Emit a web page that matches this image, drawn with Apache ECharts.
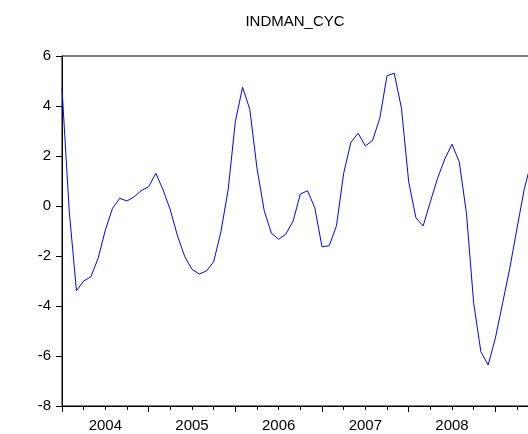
<!DOCTYPE html>
<html>
<head>
<meta charset="utf-8">
<script src="https://cdn.jsdelivr.net/npm/echarts@6/dist/echarts.min.js"></script>
<style>
html,body{margin:0;padding:0;background:#fff;}
#chart{width:528px;height:434px;}
</style>
</head>
<body>
<div id="chart"></div>
<script>
// Monthly observations starting 2004M01 (index 0 = Jan 2004)
var seriesName = 'INDMAN_CYC';
var startYear = 2004;
var values = [
  4.71, -0.20, -3.39, -3.00, -2.83, -2.09, -0.96, -0.09, 0.31, 0.20, 0.37, 0.62,
  0.77, 1.31, 0.64, -0.16, -1.20, -2.03, -2.53, -2.72, -2.60, -2.23, -1.03, 0.64,
  3.37, 4.75, 3.87, 1.51, -0.19, -1.09, -1.33, -1.12, -0.60, 0.48, 0.61, -0.07,
  -1.63, -1.59, -0.79, 1.31, 2.55, 2.91, 2.40, 2.62, 3.51, 5.21, 5.31, 3.91,
  0.97, -0.47, -0.80, 0.17, 1.11, 1.88, 2.47, 1.77, -0.29, -3.89, -5.83, -6.36,
  -5.29, -3.89, -2.49, -0.89, 0.67, 1.80
];
var yearLabels = ['2004', '2005', '2006', '2007', '2008', ''];
var yMin = -8, yMax = 6, yStep = 2;

var points = values.map(function (v, i) { return [i, v]; });
var monthsShown = yearLabels.length * 12;

var chart = echarts.init(document.getElementById('chart'), null, {renderer: 'canvas'});
var font = 'Liberation Sans, Arial, sans-serif';
chart.setOption({
  animation: false,
  backgroundColor: '#fff',
  title: {
    text: seriesName,
    left: 295,
    top: 14,
    padding: 0,
    textAlign: 'center',
    textStyle: {fontFamily: font, fontSize: 15, fontWeight: 'normal', color: '#000'}
  },
  grid: {
    left: 62, top: 56, width: monthsShown * 86.67 / 12, height: 350,
    show: true, borderColor: '#000', borderWidth: 1, backgroundColor: 'transparent',
    containLabel: false,
    outerBoundsMode: 'none'
  },
  xAxis: [{
    type: 'value',
    min: 0, max: monthsShown, interval: 12,
    axisLine: {show: true, onZero: false, lineStyle: {color: '#000', width: 1}},
    axisTick: {show: true, length: 6, lineStyle: {color: '#000'}},
    minorTick: {show: true, splitNumber: 4, length: 4, lineStyle: {color: '#000'}},
    axisLabel: {show: false},
    splitLine: {show: false},
    minorSplitLine: {show: false}
  }, {
    type: 'category',
    position: 'bottom',
    data: yearLabels,
    boundaryGap: true,
    axisLine: {show: false, onZero: false},
    axisTick: {show: false},
    axisLabel: {show: true, margin: 12, color: '#000', fontFamily: font, fontSize: 15, interval: 0},
    splitLine: {show: false}
  }],
  yAxis: {
    type: 'value',
    min: yMin, max: yMax, interval: yStep,
    axisLine: {show: true, onZero: false, lineStyle: {color: '#000', width: 1}},
    axisTick: {show: true, length: 6, lineStyle: {color: '#000'}},
    axisLabel: {margin: 11, color: '#000', fontFamily: font, fontSize: 15},
    splitLine: {show: false}
  },
  series: [{
    type: 'line',
    name: seriesName,
    xAxisIndex: 0,
    data: points,
    showSymbol: false,
    symbol: 'none',
    lineStyle: {color: '#0000FF', width: 1},
    clip: true
  }]
});
</script>
</body>
</html>
